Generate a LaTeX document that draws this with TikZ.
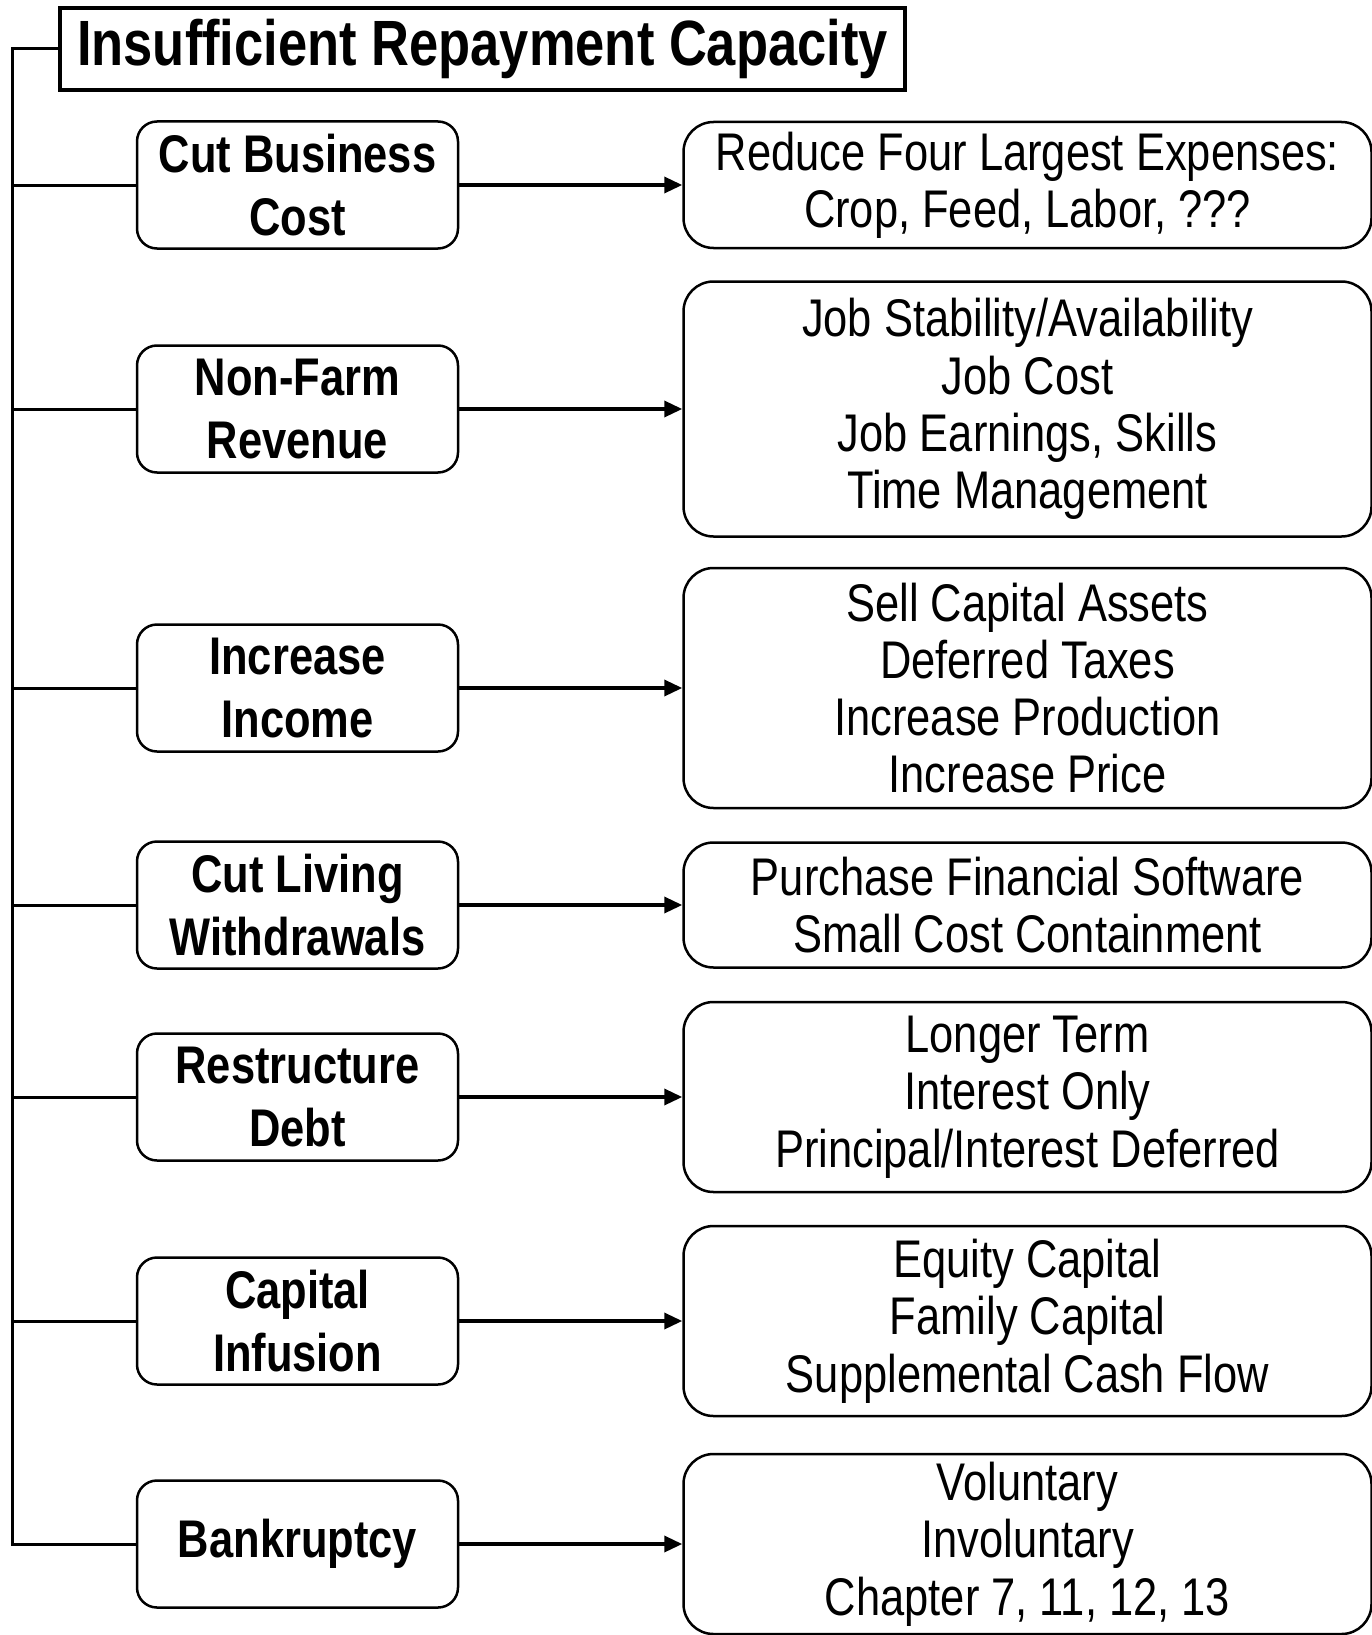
\documentclass[tikz,border=0pt]{standalone}
\usepackage{fontspec}
\setmainfont[FakeStretch=0.82]{Liberation Sans}
\usetikzlibrary{arrows.meta,positioning}

\begin{document}
\begin{tikzpicture}[->, >={Triangle[length=18pt,width=16pt]}, x=1pt, y=-1pt, node distance=223pt]
	\tikzstyle{head}=[draw=black,line width=3.5pt,minimum width=845pt,minimum height=82pt,inner sep=0pt,font=\fontsize{64}{70}\selectfont\bfseries]
	\tikzstyle{move}=[draw=black,line width=2.5pt,rounded corners=20pt,minimum width=321pt,minimum height=127pt,inner sep=0pt,align=center,font=\fontsize{53}{62.6}\selectfont\bfseries]
	\tikzstyle{todo}=[draw=black,line width=2.5pt,rounded corners=30pt,minimum width=688pt,inner sep=0pt,align=center,font=\fontsize{53}{57.3}\selectfont]
	\useasboundingbox (0,0) rectangle (1371,1635);
	\node[head]    (IRC) at (482.5,49)    {Insufficient Repayment Capacity};
	\node[move]    (CBC) at (297.5,185)   {Cut Business\\Cost};
	\node[move]    (NFR) at (297.5,409)   {Non-Farm\\Revenue};
	\node[move]    (II)  at (297.5,688)   {Increase\\Income};
	\node[move]    (CLW) at (297.5,905)   {Cut Living\\Withdrawals};
	\node[move]    (RD)  at (297.5,1097)  {Restructure\\Debt};
	\node[move]    (CI)  at (297.5,1321)  {Capital\\Infusion};
	\node[move]    (BK)  at (297.5,1544)  {Bankruptcy};
	\node[todo,minimum height=126pt]  (CBCx)[right=of CBC]  {Reduce Four Largest Expenses:\\Crop, Feed, Labor, ???};
	\node[todo,minimum height=255pt]  (NFRx)[right=of NFR]  {Job Stability/Availability\\Job Cost\\Job Earnings, Skills\\Time Management};
	\node[todo,minimum height=240pt]  (IIx)[right=of II]    {Sell Capital Assets\\Deferred Taxes\\Increase Production\\Increase Price};
	\node[todo,minimum height=125pt]  (CLWx)[right=of CLW]  {Purchase Financial Software\\Small Cost Containment};
	\node[todo,minimum height=190pt]  (RDx)[right=of RD]    {Longer Term\\Interest Only\\Principal/Interest Deferred};
	\node[todo,minimum height=190pt]  (CIx)[right=of CI]    {Equity Capital\\Family Capital\\Supplemental Cash Flow};
	\node[todo,minimum height=180pt]  (BKx)[right=of BK]    {Voluntary\\Involuntary\\Chapter 7, 11, 12, 13};
	\path[line width=3.5pt]
	(CBC) edge (CBCx)
	(NFR) edge (NFRx)
	(II)  edge (IIx)
	(CLW) edge (CLWx)
	(RD)  edge (RDx)
	(CI)  edge (CIx)
	(BK)  edge (BKx);
	% trunk on the left
	\coordinate (trunk) at (12.5,49);
	\draw[-,line width=3pt] (IRC.west) -- (trunk) |- (BK.west);
	\foreach \n in {CBC,NFR,II,CLW,RD,CI}
		\draw[-,line width=3pt] (trunk |- \n.west) -- (\n.west);
\end{tikzpicture}
\end{document}
